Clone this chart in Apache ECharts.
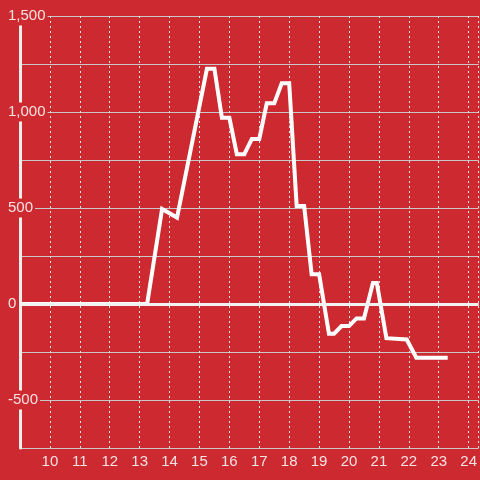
<!DOCTYPE html>
<html>
<head>
<meta charset="utf-8">
<script src="https://cdn.jsdelivr.net/npm/echarts@6/dist/echarts.min.js"></script>
<style>
    html, body { margin: 0; padding: 0; background: #cc2a30; }
    #main { width: 480px; height: 480px; }
</style>
</head>
<body>
<div id="main"></div>
<script>
    // hours of day (decimal) and values
    var hours = [9, 13.25, 13.75, 14.25, 15.25, 15.5, 15.75, 16, 16.25, 16.5, 16.75, 17, 17.25, 17.5,
        17.75, 18, 18.25, 18.5, 18.75, 19, 19.33, 19.5, 19.75, 20, 20.25, 20.5, 20.8, 20.93,
        21.25, 21.93, 22.25, 23.3];
    var values = [0, 0, 495, 450, 1225, 1225, 970, 970, 780, 780, 860, 860, 1045, 1045,
        1150, 1150, 510, 510, 155, 155, -155, -155, -115, -115, -75, -75, 110, 110,
        -178, -185, -280, -280];
    var xTicks = [10, 11, 12, 13, 14, 15, 16, 17, 18, 19, 20, 21, 22, 23, 24];
    var yLabelValues = [-500, 0, 500, 1000, 1500];

    var red = '#cc2a30';
    var txt = '#f8e2e2';
    var font = 'Liberation Sans';

    var chartDom = document.getElementById('main');
    var myChart = echarts.init(chartDom);

    var points = hours.map(function (h, i) { return [h, values[i]]; });

    var option = {
        backgroundColor: red,
        animation: false,
        grid: { left: 20, right: 0, top: 16, bottom: 32 },
        xAxis: {
            type: 'value',
            min: 9,
            max: 24.3333,
            interval: 1,
            axisLine: { show: false },
            axisTick: { show: false },
            axisLabel: {
                color: txt,
                fontSize: 15,
                fontFamily: font,
                margin: 6,
                showMinLabel: false,
                showMaxLabel: false,
                formatter: function (v) {
                    return xTicks.indexOf(v) >= 0 ? String(v) : '';
                }
            },
            splitLine: {
                show: true,
                lineStyle: { color: '#e6e6e6', width: 1, type: [2, 3] }
            }
        },
        yAxis: {
            type: 'value',
            min: -750,
            max: 1500,
            interval: 250,
            axisLine: { show: true, lineStyle: { color: '#eeeeee', width: 3 } },
            axisTick: { show: false },
            axisLabel: {
                align: 'left',
                margin: 13,
                formatter: function (v) {
                    if (yLabelValues.indexOf(v) < 0) return '';
                    return '{b|' + v.toLocaleString('en-US') + '}';
                },
                rich: {
                    b: {
                        color: txt,
                        fontSize: 15,
                        fontFamily: font,
                        backgroundColor: red,
                        padding: [2, 2, 2, 1]
                    }
                }
            },
            splitLine: {
                show: true,
                lineStyle: { color: '#c8c8c8', width: 1 }
            }
        },
        series: [
            {
                type: 'line',
                data: points,
                showSymbol: false,
                symbol: 'none',
                lineStyle: { color: '#ffffff', width: 4, join: 'miter' },
                markLine: {
                    silent: true,
                    symbol: 'none',
                    label: { show: false },
                    lineStyle: { color: '#f2f2f2', width: 3, type: 'solid' },
                    data: [{ yAxis: 0 }]
                }
            }
        ]
    };

    myChart.setOption(option);
</script>
</body>
</html>
